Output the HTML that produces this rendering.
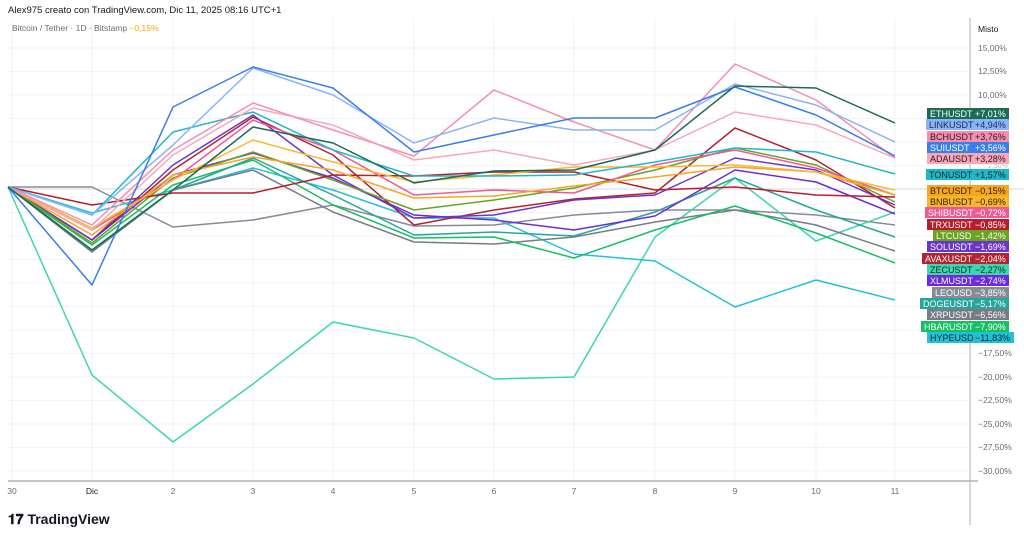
<!DOCTYPE html>
<html><head><meta charset="utf-8"><style>
body{margin:0;background:#fff;width:1024px;height:539px;overflow:hidden;font-family:"Liberation Sans",sans-serif;}
</style></head><body>
<svg width="1024" height="539" xmlns="http://www.w3.org/2000/svg" font-family="Liberation Sans, sans-serif">
<text x="8" y="13" font-size="9.5" fill="#131722">Alex975 creato con TradingView.com, Dic 11, 2025 08:16 UTC+1</text>
<g stroke="#f0f3fa" stroke-width="1">
<line x1="12" y1="18" x2="12" y2="481"/><line x1="92" y1="18" x2="92" y2="481"/><line x1="173" y1="18" x2="173" y2="481"/><line x1="253" y1="18" x2="253" y2="481"/><line x1="333" y1="18" x2="333" y2="481"/><line x1="414" y1="18" x2="414" y2="481"/><line x1="494" y1="18" x2="494" y2="481"/><line x1="574" y1="18" x2="574" y2="481"/><line x1="655" y1="18" x2="655" y2="481"/><line x1="735" y1="18" x2="735" y2="481"/><line x1="816" y1="18" x2="816" y2="481"/><line x1="895" y1="18" x2="895" y2="481"/>
<line x1="8" y1="48" x2="970" y2="48"/><line x1="8" y1="71.5" x2="970" y2="71.5"/><line x1="8" y1="95" x2="970" y2="95"/><line x1="8" y1="118.5" x2="970" y2="118.5"/><line x1="8" y1="142" x2="970" y2="142"/><line x1="8" y1="165.5" x2="970" y2="165.5"/><line x1="8" y1="212.5" x2="970" y2="212.5"/><line x1="8" y1="236" x2="970" y2="236"/><line x1="8" y1="259.5" x2="970" y2="259.5"/><line x1="8" y1="283" x2="970" y2="283"/><line x1="8" y1="306.5" x2="970" y2="306.5"/><line x1="8" y1="330" x2="970" y2="330"/><line x1="8" y1="353.5" x2="970" y2="353.5"/><line x1="8" y1="377" x2="970" y2="377"/><line x1="8" y1="400.5" x2="970" y2="400.5"/><line x1="8" y1="424" x2="970" y2="424"/><line x1="8" y1="447.5" x2="970" y2="447.5"/><line x1="8" y1="471" x2="970" y2="471"/>
</g>
<line x1="8" y1="189" x2="1024" y2="189" stroke="#d8d8d8"/>
<text x="12" y="31" font-size="8.5" fill="#6a6d78">Bitcoin / Tether · 1D · Bitstamp <tspan fill="#f7a600">−0,15%</tspan></text>
<g fill="none" stroke-width="1.5" stroke-linejoin="round">
<polyline stroke="#878b96" points="8,187 92,187 173,227 253,220 333,205 414,226 494,225 574,215 655,210 735,210 816,215 895,225"/>
<polyline stroke="#3dd6b0" points="8,187 92,375 173,442 253,384 333,322 414,338 494,379 574,377 655,237 735,178 816,241 895,212"/>
<polyline stroke="#22c1d6" points="8,187 92,213 173,190 253,168 333,190 414,218 494,218 574,254 655,261 735,307 816,280 895,300"/>
<polyline stroke="#787b86" points="8,187 92,252 173,190 253,170 333,212 414,242 494,244 574,237 655,222 735,210 816,225 895,251"/>
<polyline stroke="#16c060" points="8,187 92,245 173,185 253,160 333,205 414,238 494,237 574,258 655,230 735,206 816,233 895,263"/>
<polyline stroke="#26a69a" points="8,187 92,250 173,190 253,158 333,195 414,235 494,232 574,236 655,212 735,178 816,210 895,237"/>
<polyline stroke="#6a2be0" points="8,187 92,240 173,175 253,153 333,178 414,215 494,220 574,230 655,216 735,170 816,182 895,214"/>
<polyline stroke="#b22433" points="8,187 92,240 173,170 253,117 333,155 414,225 494,210 574,199 655,193 735,128 816,160 895,208"/>
<polyline stroke="#6b35c8" points="8,187 92,240 173,165 253,115 333,175 414,218 494,215 574,200 655,195 735,158 816,170 895,205"/>
<polyline stroke="#6aa321" points="8,187 92,243 173,178 253,152 333,180 414,210 494,200 574,188 655,170 735,148 816,165 895,202"/>
<polyline stroke="#b91c2c" points="8,187 92,205 173,193 253,193 333,175 414,176 494,172 574,172 655,190 735,187 816,195 895,197"/>
<polyline stroke="#ec5a93" points="8,187 92,230 173,180 253,120 333,150 414,195 494,190 574,193 655,165 735,150 816,168 895,195"/>
<polyline stroke="#f5a623" points="8,187 92,235 173,175 253,157 333,170 414,198 494,196 574,186 655,177 735,167 816,172 895,195"/>
<polyline stroke="#f9b82b" points="8,187 92,228 173,180 253,140 333,162 414,182 494,175 574,167 655,167 735,165 816,172 895,190"/>
<polyline stroke="#20b8c8" points="8,187 92,215 173,132 253,112 333,150 414,176 494,176 574,175 655,162 735,148 816,152 895,174"/>
<polyline stroke="#f7a8b8" points="8,187 92,230 173,155 253,108 333,125 414,160 494,150 574,165 655,150 735,112 816,125 895,158"/>
<polyline stroke="#f48fb1" points="8,187 92,225 173,150 253,103 333,130 414,156 494,90 574,122 655,150 735,64 816,100 895,158"/>
<polyline stroke="#8ab4f8" points="8,187 92,215 173,145 253,68 333,95 414,143 494,118 574,130 655,130 735,84 816,105 895,142"/>
<polyline stroke="#3b7de9" points="8,187 92,285 173,107 253,67 333,88 414,152 494,135 574,118 655,118 735,87 816,115 895,156"/>
<polyline stroke="#1b6b57" points="8,187 92,250 173,190 253,127 333,143 414,183 494,171 574,170 655,150 735,86 816,88 895,123"/>
</g>
<line x1="8" y1="481" x2="978" y2="481" stroke="#8a8a8a"/>
<line x1="970" y1="18" x2="970" y2="525" stroke="#b0b0b0"/>
<g font-size="8.5" fill="#6a6d78">
<text x="978" y="32" fill="#131722">Misto</text>
<text x="978" y="51">15,00%</text><text x="978" y="74">12,50%</text><text x="978" y="98">10,00%</text>
<text x="978" y="356">−17,50%</text><text x="978" y="380">−20,00%</text><text x="978" y="403">−22,50%</text><text x="978" y="427">−25,00%</text><text x="978" y="450">−27,50%</text><text x="978" y="474">−30,00%</text>
<g text-anchor="middle"><text x="12" y="494">30</text><text x="92" y="494" fill="#131722">Dic</text><text x="173" y="494">2</text><text x="253" y="494">3</text><text x="333" y="494">4</text><text x="414" y="494">5</text><text x="494" y="494">6</text><text x="574" y="494">7</text><text x="655" y="494">8</text><text x="735" y="494">9</text><text x="816" y="494">10</text><text x="895" y="494">11</text></g>
</g>
<g font-size="9" fill="#fff">
<g><rect x="927" y="108" width="82" height="11" fill="#1b6b57"/><text x="930" y="117">ETHUSDT</text><text x="975" y="117">+7,01%</text></g>
<g><rect x="926" y="119" width="83" height="11" fill="#8ab4f8"/><text x="929" y="128" fill="#1c2a4a">LINKUSDT</text><text x="975" y="128" fill="#1c2a4a">+4,94%</text></g>
<g><rect x="927" y="131" width="82" height="11" fill="#f48fb1"/><text x="930" y="140" fill="#3a1020">BCHUSDT</text><text x="975" y="140" fill="#3a1020">+3,76%</text></g>
<g><rect x="927" y="142" width="82" height="11" fill="#3b7de9"/><text x="930" y="151">SUIUSDT</text><text x="975" y="151">+3,56%</text></g>
<g><rect x="927" y="153" width="82" height="11" fill="#f7a8b8"/><text x="930" y="162" fill="#3a1020">ADAUSDT</text><text x="975" y="162" fill="#3a1020">+3,28%</text></g>
<g><rect x="926" y="169" width="83" height="11" fill="#20b8c8"/><text x="929" y="178" fill="#0b2a30">TONUSDT</text><text x="975" y="178" fill="#0b2a30">+1,57%</text></g>
<g><rect x="927" y="185" width="82" height="11" fill="#f5a623"/><text x="930" y="194" fill="#3a2000">BTCUSDT</text><text x="975" y="194" fill="#3a2000">−0,15%</text></g>
<g><rect x="927" y="196" width="82" height="11" fill="#f9b82b"/><text x="930" y="205" fill="#3a2000">BNBUSDT</text><text x="975" y="205" fill="#3a2000">−0,69%</text></g>
<g><rect x="925" y="207" width="84" height="11" fill="#ec5a93"/><text x="928" y="216">SHIBUSDT</text><text x="975" y="216">−0,72%</text></g>
<g><rect x="927" y="219" width="82" height="11" fill="#b91c2c"/><text x="930" y="228">TRXUSDT</text><text x="975" y="228">−0,85%</text></g>
<g><rect x="933" y="230" width="76" height="11" fill="#6aa321"/><text x="936" y="239">LTCUSD</text><text x="975" y="239">−1,42%</text></g>
<g><rect x="927" y="241" width="82" height="11" fill="#6b35c8"/><text x="930" y="250">SOLUSDT</text><text x="975" y="250">−1,69%</text></g>
<g><rect x="922" y="253" width="87" height="11" fill="#b22433"/><text x="925" y="262">AVAXUSDT</text><text x="975" y="262">−2,04%</text></g>
<g><rect x="927" y="264" width="82" height="11" fill="#3dd6b0"/><text x="930" y="273" fill="#0b2a22">ZECUSDT</text><text x="975" y="273" fill="#0b2a22">−2,27%</text></g>
<g><rect x="927" y="275" width="82" height="11" fill="#6a2be0"/><text x="930" y="284">XLMUSDT</text><text x="975" y="284">−2,74%</text></g>
<g><rect x="932" y="287" width="77" height="11" fill="#878b96"/><text x="935" y="296">LEOUSD</text><text x="975" y="296">−3,85%</text></g>
<g><rect x="920" y="298" width="89" height="11" fill="#26a69a"/><text x="923" y="307">DOGEUSDT</text><text x="975" y="307">−5,17%</text></g>
<g><rect x="927" y="309" width="82" height="11" fill="#787b86"/><text x="930" y="318">XRPUSDT</text><text x="975" y="318">−6,56%</text></g>
<g><rect x="921" y="321" width="88" height="11" fill="#16c060"/><text x="924" y="330">HBARUSDT</text><text x="975" y="330">−7,90%</text></g>
<g><rect x="927" y="332" width="87" height="11" fill="#22c1d6"/><text x="930" y="341" fill="#0b2a30">HYPEUSD</text><text x="975" y="341" fill="#0b2a30">−11,83%</text></g>
</g>
<text x="988" y="168" font-size="7" fill="#bbb">2,50%</text>
<text x="8" y="524" font-size="14" font-weight="bold" fill="#131722">𝟏𝟕 TradingView</text>
</svg>
</body></html>
